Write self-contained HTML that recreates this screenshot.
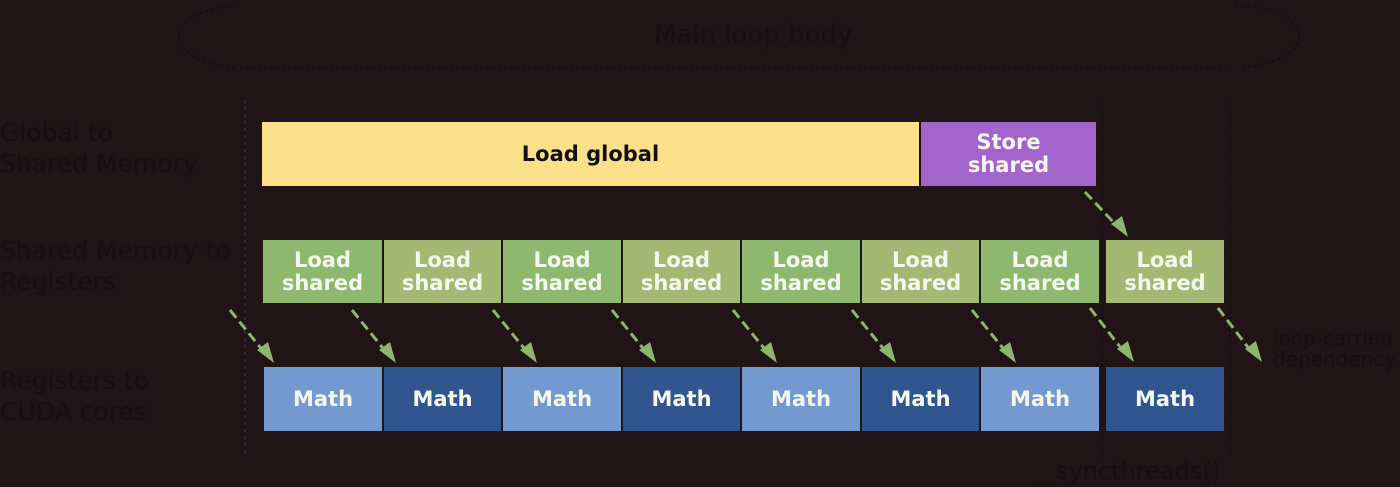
<!DOCTYPE html>
<html><head><style>
body{margin:0;background:#201416;width:1400px;height:487px;overflow:hidden;font-family:"DejaVu Sans","Liberation Sans",sans-serif}
.b{position:absolute;display:flex;align-items:center;justify-content:center;text-align:center;font-weight:bold;font-size:21px;line-height:23px;color:#f4f8ec}
.l{position:absolute;color:#170f11;font-size:25px;line-height:31px}
</style></head><body>
<svg width="1400" height="487" style="position:absolute;left:0;top:0">
<g stroke="#151012" stroke-width="2" stroke-dasharray="3,3" fill="none">
<path d="M235,68 C160,60 160,12 235,5"/>
<path d="M240,68 L1225,68"/>
<path d="M1235,5 C1320,10 1320,60 1240,68"/>
<line x1="1102" y1="100" x2="1102" y2="460"/>
<line x1="1230" y1="100" x2="1230" y2="455"/>
</g>
<line x1="245" y1="100" x2="245" y2="455" stroke="#2a3a6a" stroke-width="1" stroke-dasharray="3,4"/>
<g stroke="#8bb66c" stroke-width="3" stroke-dasharray="10,5" fill="#8bb66c">
<line x1="230" y1="310" x2="264" y2="352"/>
<line x1="352" y1="310" x2="386" y2="352"/>
<line x1="493" y1="310" x2="527" y2="352"/>
<line x1="612" y1="310" x2="646" y2="352"/>
<line x1="733" y1="310" x2="767" y2="352"/>
<line x1="852" y1="310" x2="886" y2="352"/>
<line x1="972" y1="310" x2="1006" y2="352"/>
<line x1="1090" y1="308" x2="1124" y2="352"/>
<line x1="1218" y1="308" x2="1250" y2="350"/>
<line x1="1085" y1="192" x2="1117" y2="226"/>
</g>
<g fill="#8bb66c">
<polygon points="274,363 257,350 268,342"/>
<polygon points="396,363 379,350 390,342"/>
<polygon points="537,363 520,350 531,342"/>
<polygon points="656,363 639,350 650,342"/>
<polygon points="777,363 760,350 771,342"/>
<polygon points="896,363 879,350 890,342"/>
<polygon points="1016,363 999,350 1010,342"/>
<polygon points="1134,362 1117,349 1128,341"/>
<polygon points="1262,362 1245,349 1256,341"/>
<polygon points="1128,237 1111,224 1122,216"/>
</g>
</svg>
<div class="l" style="left:654px;top:20px;font-size:26px">Main loop body</div>
<div class="l" style="left:0;top:117px">Global to<br>Shared Memory</div>
<div class="l" style="left:0;top:235px">Shared Memory to<br>Registers</div>
<div class="l" style="left:0;top:365px">Registers to<br>CUDA cores</div>
<div class="l" style="left:1273px;top:328px;font-size:20px;line-height:21px">loop-carried<br>dependency</div>
<div class="l" style="left:1032px;top:456px;font-size:24px">__syncthreads()</div>

<div class="b" style="left:262px;top:122px;width:657px;height:64px;background:#fbe08a;color:#111">Load global</div>
<div class="b" style="left:921px;top:122px;width:175px;height:64px;background:#a365cc">Store<br>shared</div>

<div class="b" style="left:263px;top:240px;width:119px;height:63px;background:#8db86d">Load<br>shared</div>
<div class="b" style="left:384px;top:240px;width:117px;height:63px;background:#a3b873">Load<br>shared</div>
<div class="b" style="left:503px;top:240px;width:118px;height:63px;background:#8db86d">Load<br>shared</div>
<div class="b" style="left:623px;top:240px;width:117px;height:63px;background:#a3b873">Load<br>shared</div>
<div class="b" style="left:742px;top:240px;width:118px;height:63px;background:#8db86d">Load<br>shared</div>
<div class="b" style="left:862px;top:240px;width:117px;height:63px;background:#a3b873">Load<br>shared</div>
<div class="b" style="left:981px;top:240px;width:118px;height:63px;background:#8db86d">Load<br>shared</div>
<div class="b" style="left:1106px;top:240px;width:118px;height:63px;background:#a3b873">Load<br>shared</div>

<div class="b" style="left:264px;top:367px;width:118px;height:64px;background:#7499d1">Math</div>
<div class="b" style="left:384px;top:367px;width:117px;height:64px;background:#30558f">Math</div>
<div class="b" style="left:503px;top:367px;width:118px;height:64px;background:#7499d1">Math</div>
<div class="b" style="left:623px;top:367px;width:117px;height:64px;background:#30558f">Math</div>
<div class="b" style="left:742px;top:367px;width:118px;height:64px;background:#7499d1">Math</div>
<div class="b" style="left:862px;top:367px;width:117px;height:64px;background:#30558f">Math</div>
<div class="b" style="left:981px;top:367px;width:118px;height:64px;background:#7499d1">Math</div>
<div class="b" style="left:1106px;top:367px;width:118px;height:64px;background:#30558f">Math</div>
</body></html>
